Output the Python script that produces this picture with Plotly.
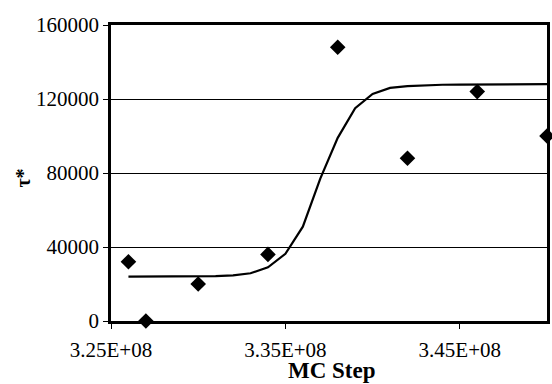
import plotly.graph_objects as go

# Data points (MC step, tau*)
point_x = [3.26e8, 3.27e8, 3.30e8, 3.34e8, 3.38e8, 3.42e8, 3.46e8, 3.50e8]
point_y = [32000, 0, 20000, 36000, 148000, 88000, 124000, 100000]

# Fitted curve, read at 1e6 spacing
curve_x = [3.26e8, 3.27e8, 3.28e8, 3.29e8, 3.30e8, 3.31e8, 3.32e8, 3.33e8,
           3.34e8, 3.35e8, 3.36e8, 3.37e8, 3.38e8, 3.39e8, 3.40e8, 3.41e8,
           3.42e8, 3.43e8, 3.44e8, 3.45e8, 3.46e8, 3.47e8, 3.48e8, 3.49e8, 3.50e8]
curve_y = [24000, 24000, 24000, 24000, 24100, 24300, 24700, 25800,
           29000, 36300, 51000, 77000, 99000, 115000, 122700, 126000,
           127000, 127500, 127700, 127800, 127900, 128000, 128000, 128000, 128000]

x_ticks = [3.25e8, 3.35e8, 3.45e8]
y_ticks = [0, 40000, 80000, 120000, 160000]

serif = "Liberation Serif"

fig = go.Figure()
fig.add_trace(go.Scatter(x=curve_x, y=curve_y, mode="lines",
                         line=dict(color="black", width=2.2), showlegend=False))
fig.add_trace(go.Scatter(x=point_x, y=point_y, mode="markers",
                         marker=dict(symbol="diamond", size=12, color="black"),
                         showlegend=False, cliponaxis=False))

fig.update_layout(
    width=552, height=384,
    margin=dict(l=111, r=2, t=25, b=63),
    paper_bgcolor="white", plot_bgcolor="white",
    xaxis=dict(range=[3.25e8, 3.50e8], tickvals=x_ticks,
               ticktext=[f"{v:.2E}" for v in x_ticks],
               showgrid=False, zeroline=False,
               showline=True, mirror=True, linecolor="black", linewidth=2.5,
               ticks="outside", ticklen=5, tickcolor="black", tickwidth=1,
               ticklabelstandoff=3,
               tickfont=dict(family=serif, size=21, color="black")),
    yaxis=dict(range=[0, 160000], tickvals=y_ticks,
               ticktext=[str(v) for v in y_ticks],
               showgrid=True, gridcolor="black", gridwidth=1, zeroline=False,
               showline=True, mirror=True, linecolor="black", linewidth=2.5,
               ticks="outside", ticklen=5, tickcolor="black", tickwidth=1,
               tickfont=dict(family=serif, size=21, color="black")),
    annotations=[
        dict(text="<b>τ*</b>", xref="paper", yref="paper",
             x=(22 - 111) / 439, y=(321 - 178) / 296,
             xanchor="center", yanchor="middle", textangle=-90,
             showarrow=False, font=dict(family=serif, size=20, color="black")),
        dict(text="<b>MC Step</b>", xref="paper", yref="paper",
             x=(334 - 111) / 439, y=(321 - 385) / 296,
             xanchor="center", yanchor="bottom",
             showarrow=False, font=dict(family=serif, size=23, color="black")),
    ],
)

fig.write_html("out.html")
